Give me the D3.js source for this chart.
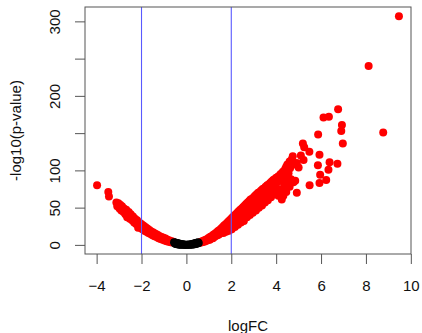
<!DOCTYPE html>
<html>
<head>
<meta charset="utf-8">
<script src="https://cdn.jsdelivr.net/npm/d3@7"></script>
<style>
  html, body { margin: 0; padding: 0; background: #fff; }
  svg { display: block; font-family: "Liberation Sans", Arial, sans-serif; }
</style>
</head>
<body>
<div id="chart"></div>
<script>
// [logFC, -log10(p)]
const sigGenes = [
  [-3.98,80],[-3.48,71],[-3.45,65],
  [-3.12,57],[-3.08,52],[-3.03,56],[-2.98,49],[-2.95,54],[-2.9,46],[-2.87,52],[-2.8,44],[-2.78,49],
  [-2.72,41],[-2.68,47],[-2.64,37],[-2.6,40],[-2.57,44],[-2.52,35],[-2.48,41],[-2.42,33],[-2.38,38],
  [-2.33,30],[-2.29,35],[-2.24,28],[-2.2,33],[-2.15,23],[-2.13,27],[-2.1,30],[-2.05,23],[-2.01,28],
  [-1.96,21],[-1.92,26],[-1.87,19],[-1.83,24],[-1.78,17.5],[-1.74,22],[-1.69,16],[-1.65,20],[-1.6,14.5],
  [-1.56,18],[-1.51,13],[-1.47,16.5],[-1.42,11.5],[-1.38,15],[-1.33,10.5],[-1.29,13.5],[-1.24,9],
  [-1.2,12],[-1.15,8],[-1.1,10.5],[-1.06,7],[-1.02,9.5],[-0.97,6],[-0.93,8.5],[-0.88,5],[-0.84,7],
  [-0.79,4.2],[-0.75,6],[-0.7,3.6],[-0.66,5],[-0.62,3.2],[-0.58,4.2],
  [0.58,2.8],[0.62,4],[0.66,3.2],[0.7,5],[0.74,4],[0.78,6],[0.82,4.6],[0.86,7],[0.9,5.5],[0.93,8],
  [0.97,6.5],[1.0,9.5],[1.04,7],[1.07,11],[1.1,8.5],[1.14,12],[1.18,9],[1.2,13.5],[1.24,10.5],[1.27,15],
  [1.3,12],[1.34,16.5],[1.38,13],[1.41,18.5],[1.45,14],[1.48,20],[1.52,16],[1.55,22],[1.58,18.5],
  [1.62,24],[1.65,16],[1.68,26],[1.7,20],[1.74,27.5],[1.77,17.5],[1.8,29],[1.83,23],[1.86,31],[1.9,19],
  [1.93,33],[1.96,26],[2.0,35],[2.02,21],[2.06,37],[2.1,29],[2.13,39],[2.16,24],[2.2,41],[2.23,32],
  [2.27,43],[2.3,27],[2.33,45],[2.37,36],[2.4,47],[2.43,30],[2.47,49],[2.5,40],[2.53,51],[2.56,32],
  [2.6,53],[2.63,43],[2.66,55],[2.7,37],[2.73,57],[2.76,47],[2.8,59],[2.83,40],[2.86,61],[2.9,51],
  [2.93,62],[2.96,43],[3.0,64],[3.03,55],[3.06,66],[3.1,46],[3.13,68],[3.17,57],[3.2,70],[3.23,50],
  [3.27,71],[3.3,61],[3.33,73],[3.37,53],[3.4,75],[3.43,65],[3.47,76],[3.5,57],[3.53,78],[3.57,68],
  [3.6,80],[3.63,60],[3.67,81],[3.7,71],[3.73,83],[3.77,64],[3.8,85],[3.83,75],[3.87,87],[3.9,68],
  [3.93,88],[3.97,79],[4.0,90],[4.03,72],
  [4.05,84],[4.1,92],[4.1,66],[4.15,74],[4.2,95],[4.2,86],[4.25,61],[4.3,98],[4.32,66],[4.32,96],
  [4.35,78],[4.4,102],[4.4,90],[4.45,105],[4.45,71],[4.47,84],[4.5,108],[4.55,96],[4.6,112],[4.6,78],
  [4.62,103],[4.66,88],[4.7,115],[4.74,119],[4.77,84],[4.85,86],[4.85,108],[4.92,110],[4.92,70],
  [5.0,104],[5.1,120],[5.19,136],[5.25,131],[5.48,125],[5.22,114],[5.49,80],[5.87,148],[5.93,121],
  [5.86,107],[5.93,83],[5.96,94],[6.11,171],[6.35,172],[6.76,182],[6.93,161],[6.9,153],[6.97,136],
  [6.38,111],[6.73,109],[6.33,101],[6.23,87],[8.12,240],[8.77,151],[9.47,307]
];

const nsGenes = [
  [-0.55,3.6],[-0.52,2.2],[-0.5,3.2],[-0.48,1.2],[-0.45,2.7],[-0.42,0.8],[-0.4,2.4],[-0.37,1.5],
  [-0.35,0.5],[-0.32,1.9],[-0.3,0.3],[-0.27,1.2],[-0.24,0.2],[-0.22,0.9],[-0.18,0.4],[-0.15,0.7],
  [-0.12,0.1],[-0.08,0.3],[-0.05,0.05],[0,0.1],[0.04,0.3],[0.08,0.05],[0.12,0.5],[0.16,0.2],
  [0.2,0.9],[0.23,0.3],[0.26,1.3],[0.3,0.5],[0.33,1.8],[0.36,0.8],[0.4,2.4],[0.43,1.2],[0.46,2.9],
  [0.49,1.8],[0.52,3.4],[0.55,2.4]
];

const xTicks = [-4, -2, 0, 2, 4, 6, 8, 10];
const yTicks = [0, 50, 100, 150, 200, 250, 300];
const yTickLabels = ["0", "50", "100", "", "200", "", "300"];
const fcCutoffs = [-2, 2];

const width = 422, height = 333;
const margins = { top: 7, right: 11, bottom: 79, left: 85 };
const plotW = width - margins.left - margins.right;
const plotH = height - margins.top - margins.bottom;

const allGenes = sigGenes.concat(nsGenes);

// R style: data range padded by 4% each side
function padded(ext) {
  const p = (ext[1] - ext[0]) * 0.04;
  return [ext[0] - p, ext[1] + p];
}

const x = d3.scaleLinear()
  .domain(padded(d3.extent(allGenes, d => d[0])))
  .range([margins.left, margins.left + plotW]);
const y = d3.scaleLinear()
  .domain(padded(d3.extent(allGenes, d => d[1])))
  .range([margins.top + plotH, margins.top]);

const svg = d3.select("#chart").append("svg")
  .attr("width", width)
  .attr("height", height);

// points
svg.append("g")
  .selectAll("circle")
  .data(sigGenes)
  .enter().append("circle")
    .attr("cx", d => x(d[0]))
    .attr("cy", d => y(d[1]))
    .attr("r", 4)
    .style("fill", "#ff0000");

svg.append("g")
  .selectAll("circle")
  .data(nsGenes)
  .enter().append("circle")
    .attr("cx", d => x(d[0]))
    .attr("cy", d => y(d[1]))
    .attr("r", 4)
    .style("fill", "#000");

// cutoff lines
svg.append("g")
  .selectAll("line")
  .data(fcCutoffs)
  .enter().append("line")
    .attr("x1", d => x(d)).attr("x2", d => x(d))
    .attr("y1", margins.top).attr("y2", margins.top + plotH)
    .style("stroke", "#5a5aff")
    .style("stroke-width", 1.1);

// box
svg.append("rect")
  .attr("x", margins.left)
  .attr("y", margins.top)
  .attr("width", plotW)
  .attr("height", plotH)
  .style("fill", "none")
  .style("stroke", "#555")
  .style("stroke-width", 1);

// axes
const xAxis = svg.append("g")
  .attr("transform", "translate(0," + (margins.top + plotH) + ")")
  .call(d3.axisBottom(x).tickValues(xTicks).tickSize(10).tickPadding(16).tickFormat(d3.format("d")));

const yAxis = svg.append("g")
  .attr("transform", "translate(" + margins.left + ",0)")
  .call(d3.axisLeft(y).tickValues(yTicks).tickSize(10).tickFormat((d, i) => yTickLabels[i]));

[xAxis, yAxis].forEach(a => {
  a.select(".domain").remove();
  a.selectAll("line").style("stroke", "#555");
  a.selectAll("text").style("fill", "#111").style("font-size", "15px")
    .style("font-family", "Liberation Sans, Arial, sans-serif");
});

yAxis.selectAll("text")
  .attr("x", null)
  .attr("dy", null)
  .attr("text-anchor", "middle")
  .attr("transform", "translate(-25,0) rotate(-90)");

// axis titles
svg.append("text")
  .attr("x", margins.left + plotW / 2)
  .attr("y", 331)
  .attr("text-anchor", "middle")
  .style("font-size", "15px")
  .style("fill", "#111")
  .text("logFC");

svg.append("text")
  .attr("transform", "translate(21," + (margins.top + plotH / 2) + ") rotate(-90)")
  .attr("text-anchor", "middle")
  .style("font-size", "15px")
  .style("fill", "#111")
  .text("-log10(p-value)");
</script>
</body>
</html>
